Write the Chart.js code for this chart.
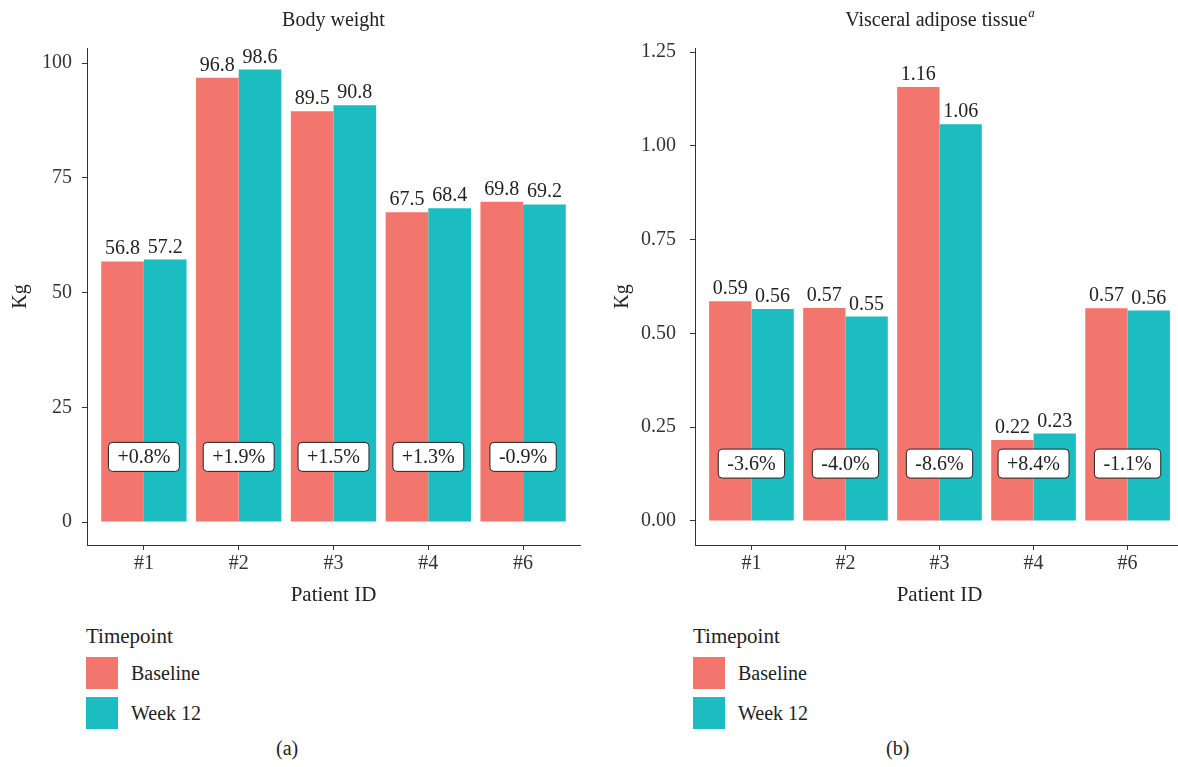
<!DOCTYPE html>
<html>
<head>
<meta charset="utf-8">
<script src="https://cdn.jsdelivr.net/npm/chart.js@4.4.1/dist/chart.umd.min.js"></script>
<style>
  body { margin: 0; background: #fff; width: 1178px; height: 767px; overflow: hidden; position: relative;
         font-family: "Liberation Serif", serif; color: #222; }
  canvas { position: absolute; top: 0; }
  #weightChart { left: 0; }
  #vatChart { left: 600px; }
  .legend { position: absolute; top: 624px; font-size: 20px; }
  .legend .ttl { height: 29px; font-size: 21px; }
  .legend .item { display: flex; align-items: center; height: 40px; }
  .legend .sw { width: 32px; height: 32px; margin-right: 13px; }
  .cap { position: absolute; top: 737px; font-size: 20px; }
</style>
</head>
<body>
<canvas id="weightChart" width="600" height="608"></canvas>
<canvas id="vatChart" width="590" height="608"></canvas>
<div class="legend" id="legA" style="left:86px"></div>
<div class="legend" id="legB" style="left:693px"></div>
<div class="cap" style="left:276px">(a)</div>
<div class="cap" style="left:886px">(b)</div>
<script>
// data
const patients = ['#1', '#2', '#3', '#4', '#6'];
const seriesNames = ['Baseline', 'Week 12'];
const seriesColors = ['#F3766E', '#1BBDC1'];

const weightBaseline = [56.8, 96.8, 89.5, 67.5, 69.8];
const weightWeek12 = [57.2, 98.6, 90.8, 68.4, 69.2];
const weightChange = ['+0.8%', '+1.9%', '+1.5%', '+1.3%', '-0.9%'];
const weightTicks = [0, 25, 50, 75, 100];

const vatBaseline = [0.586, 0.568, 1.157, 0.216, 0.567];
const vatWeek12 = [0.565, 0.545, 1.058, 0.233, 0.561];
const vatBaselineLabels = ['0.59', '0.57', '1.16', '0.22', '0.57'];
const vatWeek12Labels = ['0.56', '0.55', '1.06', '0.23', '0.56'];
const vatChange = ['-3.6%', '-4.0%', '-8.6%', '+8.4%', '-1.1%'];
const vatTicks = [0, 0.25, 0.5, 0.75, 1, 1.25];

const FONT = '"Liberation Serif", serif';
const INK = '#222';
const AXIS = '#333';

function roundRect(ctx, x, y, w, h, r) {
  ctx.beginPath();
  ctx.moveTo(x + r, y);
  ctx.arcTo(x + w, y, x + w, y + h, r);
  ctx.arcTo(x + w, y + h, x, y + h, r);
  ctx.arcTo(x, y + h, x, y, r);
  ctx.arcTo(x, y, x + w, y, r);
  ctx.closePath();
}

function makeChart(id, o) {
  const annotate = {
    id: 'annotate',
    afterDatasetsDraw(chart) {
      const ctx = chart.ctx;
      const area = chart.chartArea;
      ctx.save();
      ctx.fillStyle = INK;
      ctx.font = '20px ' + FONT;
      ctx.textAlign = 'center';
      ctx.textBaseline = 'alphabetic';
      // value labels on top of bars
      [o.baseLabels, o.weekLabels].forEach((labels, d) => {
        chart.getDatasetMeta(d).data.forEach((bar, i) => {
          ctx.fillText(labels[i], bar.x, bar.y - 7);
        });
      });
      // percent change boxes
      const xs = chart.scales.x, ys = chart.scales.y;
      ctx.textBaseline = 'middle';
      o.change.forEach((txt, i) => {
        const cx = xs.getPixelForValue(i);
        const cy = ys.getPixelForValue(o.changeY);
        const w = ctx.measureText(txt).width + 18;
        const h = 29;
        roundRect(ctx, cx - w / 2, cy - h / 2, w, h, 4);
        ctx.fillStyle = '#fff';
        ctx.fill();
        ctx.lineWidth = 1;
        ctx.strokeStyle = INK;
        ctx.stroke();
        ctx.fillStyle = INK;
        ctx.fillText(txt, cx, cy + 1);
      });
      // panel title
      ctx.font = '20px ' + FONT;
      ctx.textBaseline = 'middle';
      const mid = (area.left + area.right) / 2;
      if (o.sup) {
        const w1 = ctx.measureText(o.title).width;
        ctx.font = 'italic 13px ' + FONT;
        const w2 = ctx.measureText(o.sup).width;
        const start = mid - (w1 + w2) / 2;
        ctx.textAlign = 'left';
        ctx.font = '20px ' + FONT;
        ctx.fillText(o.title, start, 21);
        ctx.font = 'italic 13px ' + FONT;
        ctx.fillText(o.sup, start + w1 + 1, 14);
      } else {
        ctx.fillText(o.title, mid, 21);
      }
      ctx.restore();
    }
  };

  return new Chart(document.getElementById(id), {
    type: 'bar',
    data: {
      datasets: [
        { label: seriesNames[0], data: o.baseline.map((v, i) => ({ x: i, y: v })), backgroundColor: seriesColors[0] },
        { label: seriesNames[1], data: o.week12.map((v, i) => ({ x: i, y: v })), backgroundColor: seriesColors[1] }
      ]
    },
    options: {
      responsive: false,
      animation: false,
      events: [],
      layout: { padding: { top: 48, left: 0, right: o.padRight, bottom: 0 } },
      datasets: { bar: { categoryPercentage: 0.9, barPercentage: 1.0, borderWidth: 0 } },
      plugins: { legend: { display: false }, tooltip: { enabled: false } },
      scales: {
        x: {
          type: 'linear',
          min: -0.6,
          max: 4.6,
          offset: false,
          afterBuildTicks: s => { s.ticks = patients.map((p, i) => ({ value: i })); },
          afterFit: s => { s.height = 63; },
          ticks: { callback: v => patients[v], color: AXIS, padding: 2, font: { family: FONT, size: 20 }, maxRotation: 0 },
          grid: { drawOnChartArea: false, offset: false, tickLength: 5, tickColor: AXIS },
          border: { color: AXIS, width: 1 },
          title: { display: true, text: 'Patient ID', color: INK, padding: 0, font: { family: FONT, size: 21 } }
        },
        y: {
          min: o.yMin,
          max: o.yMax,
          afterBuildTicks: s => { s.ticks = o.ticks.map(v => ({ value: v })); },
          afterFit: s => { s.width = o.axisLeft; },
          ticks: { callback: o.tickFmt, color: AXIS, padding: o.tickPad, font: { family: FONT, size: 20 } },
          grid: { drawOnChartArea: false, tickLength: 5, tickColor: AXIS },
          border: { color: AXIS, width: 1 },
          title: { display: true, text: 'Kg', color: INK, padding: { top: o.kgPad }, font: { family: FONT, size: 20 } }
        }
      }
    },
    plugins: [annotate]
  });
}

makeChart('weightChart', {
  title: 'Body weight', sup: '',
  baseline: weightBaseline, week12: weightWeek12,
  baseLabels: weightBaseline.map(v => v.toFixed(1)),
  weekLabels: weightWeek12.map(v => v.toFixed(1)),
  change: weightChange, changeY: 14.2,
  ticks: weightTicks, yMin: -5.0, yMax: 103.3,
  tickFmt: v => String(v),
  axisLeft: 87, padRight: 20, kgPad: 9, tickPad: 10
});

makeChart('vatChart', {
  title: 'Visceral adipose tissue', sup: 'a',
  baseline: vatBaseline, week12: vatWeek12,
  baseLabels: vatBaselineLabels, weekLabels: vatWeek12Labels,
  change: vatChange, changeY: 0.153,
  ticks: vatTicks, yMin: -0.064, yMax: 1.261,
  tickFmt: v => v.toFixed(2),
  axisLeft: 95, padRight: 6, kgPad: 11, tickPad: 14
});

// legends
['legA', 'legB'].forEach(id => {
  const el = document.getElementById(id);
  let html = '<div class="ttl">Timepoint</div>';
  seriesNames.forEach((n, i) => {
    html += '<div class="item"><div class="sw" style="background:' + seriesColors[i] + '"></div>' + n + '</div>';
  });
  el.innerHTML = html;
});
</script>
</body>
</html>
